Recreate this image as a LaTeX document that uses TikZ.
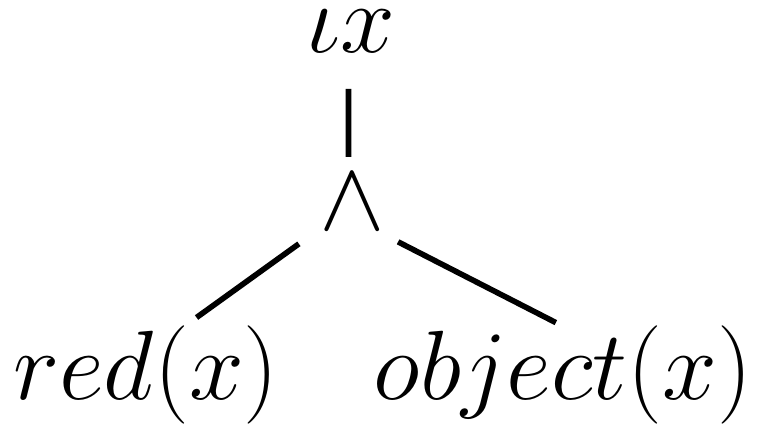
\RequirePackage{fix-cm}
\documentclass[tikz,border=0pt]{standalone}
\usepackage{amsmath}

\begin{document}
\begin{tikzpicture}[
    term/.style={inner sep=0pt, outer sep=0pt, anchor=base, font=\fontsize{56}{66}\selectfont},
    branch/.style={line width=3.2pt}
  ]
  \useasboundingbox (0,0) rectangle (15.14,8.54);

  % Nodes of the tree
  \node[term] (iota) at (7.02,7.48) {$\iota x$};
  \node[term] (conj) at (7.04,3.94) {$\wedge$};
  \node[term] (red) at (2.92,0.54) {$red(x)$};
  \node[term] (obj) at (11.26,0.54) {$object(x)$};

  % Edges
  \draw[branch, shorten <=0.72cm, shorten >=0.37cm] ([xshift=-0.05cm]iota.south) -- ([xshift=-0.07cm]conj.north);
  \draw[branch, shorten <=0.50cm, shorten >=0.30cm] (conj.219) -- (red.52);
  \draw[branch, shorten <=0.52cm, shorten >=0.16cm] (conj.310) -- (obj.north);
\end{tikzpicture}
\end{document}
